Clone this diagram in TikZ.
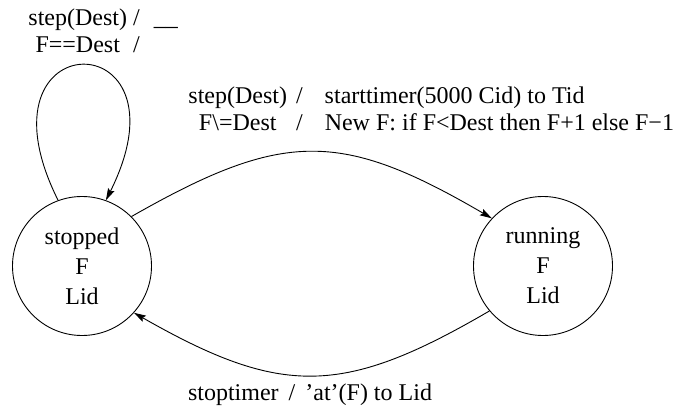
\documentclass[tikz,border=0pt]{standalone}
\usepackage{fontspec}
\setmainfont{Liberation Serif}
\usetikzlibrary{arrows.meta}

\tikzset{
	state/.style={circle, draw, minimum size=139pt, inner sep=0pt, align=center,
		font=\fontsize{24}{30}\selectfont},
	trans/.style={-{Stealth[length=12pt, width=7pt, inset=2pt]}},
	guard/.style={inner sep=0pt, font=\fontsize{24}{27}\selectfont}
}

\begin{document}
\begin{tikzpicture}[x=1pt, y=-1pt, line width=0.9pt]
	\useasboundingbox (0,0) rectangle (677,414);
	\node[state] (stopped) at (82,266) {stopped\\F\\Lid};
	\node[state] (running) at (543,266) {running\\F\\Lid};
	\draw[trans] (stopped.110) .. controls +(-90,-180) and +(90,-180) .. (stopped.70);
	\draw[trans] (stopped.45) to[bend left=30, looseness=1.24] (running.137);
	\draw[trans] (running.220) to[bend left=30, looseness=1.22] (stopped.318);
	\node[guard, anchor=west] (loopguard) at (28,33.5)
		{\begin{tabular}{@{}c@{\hspace{6pt}}c@{\hspace{14pt}}l@{}}
			step(Dest) & / & \_\_\\
			F==Dest & / &
		\end{tabular}};
	\node[guard, anchor=west] (goguard) at (188,112)
		{\begin{tabular}{@{}c@{\hspace{9pt}}c@{\hspace{22pt}}l@{}}
			step(Dest) & / & starttimer(5000 Cid) to Tid\\
			F\textbackslash=Dest & / & New F: if F<Dest then F+1 else F−1
		\end{tabular}};
	\node[guard] (stopguard) at (310,395) {stoptimer\hspace{10pt}/\hspace{10pt}'at'(F) to Lid};
\end{tikzpicture}
\end{document}
